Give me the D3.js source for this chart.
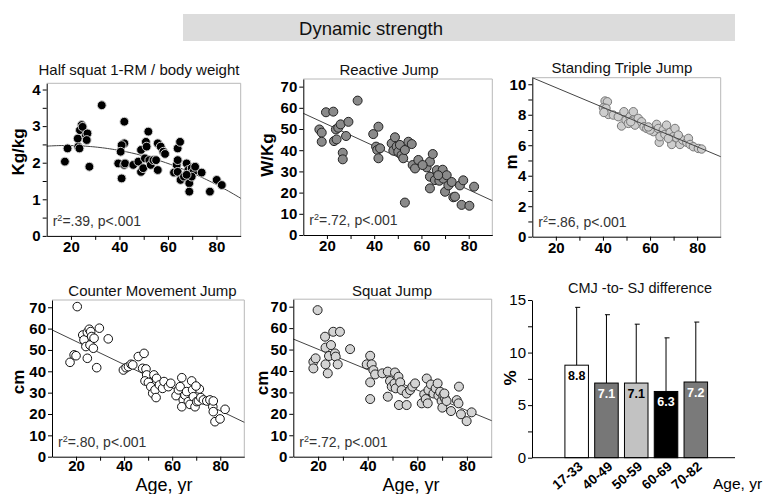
<!DOCTYPE html>
<html>
<head>
<meta charset="utf-8">
<script src="https://cdn.jsdelivr.net/npm/d3@7"></script>
<style>
  body { margin: 0; background: #fff; }
  svg { display: block; font-family: "Liberation Sans", Arial, sans-serif; }
</style>
</head>
<body>
<svg id="chart" width="764" height="494"></svg>
<script>
// ---------- Data ----------
// Half squat 1-RM relative to body weight (kg/kg) by age
const squatAge   = [17.5,18.6,23,23.5,22.8,24.4,23.7,24.8,26.2,26.8,26.5,27.6,32.7,42,42,40.9,40.5,39.5,40.9,42,42.3,45.7,47.8,48.9,48.9,49.8,50.9,51.2,50.5,51.9,52.3,52.9,54,55.1,55.8,55.8,57,58.1,58.8,62.5,63.6,64,64,65,64,65.2,66.6,67.7,68.4,68.8,68.8,69.8,70.5,71.2,73.9,77.3,80.1,82.2,69.8,67.7];
const squatRatio = [2.03,2.39,2.44,2.39,2.66,3.03,2.89,2.98,2.75,2.8,2.62,1.89,3.57,3.12,2.53,2.48,2.3,1.98,1.57,1.94,1.98,1.94,2.03,2.35,1.75,1.85,2.57,2.44,2.12,2.85,2.07,1.94,2.07,2.07,1.8,2.53,2.44,2.3,2.24,1.73,1.94,2.39,2.07,2.57,1.75,1.53,1.62,1.98,1.8,1.44,1.21,1.85,1.75,1.89,1.73,1.21,1.53,1.39,1.62,1.67];
const squatFitCoef = [2.38, 0.01, -0.000278];   // quadratic fit: c0 + c1*age + c2*age^2

// Reactive jump power (W/kg)
const reactiveAge   = [16.8,17.8,17.8,19.6,22.7,23,24.1,23.8,24.8,25.8,26.7,26.7,28.1,29.1,33,39.6,41.8,40.8,41.3,42.5,41.8,47.4,48.8,48.1,49.5,50.2,50.9,51.6,52.3,53,54.5,53,55.9,56.3,57.3,58.7,62.2,63.6,64.8,63.6,63.6,65.7,66.5,67.6,69,69.3,70,70.7,71.4,72.8,73.5,74.2,76.3,77.7,77,80.3,82.3,67.1,60.5];
const reactivePower = [49.8,48.3,44,57.9,58.2,44.3,45.1,49.8,50.6,52.2,38.8,35.7,46.7,53.4,63.4,47.6,51.1,41.7,40.1,40.9,36.2,43.2,46.1,39.8,41.7,39.3,42.5,37.7,36.2,40.1,44,15.3,42.9,33,31.4,35.4,31.9,34.6,38.2,27.5,22,25.9,30.6,25.6,30.8,26.6,20.4,28.2,23.4,25,17.8,18.1,23.4,25.8,14.2,13.8,22.8,28.2,33];
const reactiveFit = [[10, 57.4], [90, 16.2]];

// Standing triple jump distance (m)
const tripleAge  = [40.9,41.9,40.2,41.3,42.3,40.4,44.4,46.5,47.9,48.9,49.8,50.8,51.5,52.9,52.6,53.6,55,56.4,57.4,58.6,61.4,62.8,63.5,63.9,64.2,65.6,66.3,67,68.5,69.2,69.9,70.6,71.3,72.7,73.9,75.6,76.3,77,78.4,80.5,81.9,60,67.8,59.3,72,51.8];
const tripleDist = [8.9,8.85,8.46,8.42,8.02,8.15,7.98,7.87,7.26,8.2,7.65,7.43,7.87,8.2,7.65,7.32,7.76,7.54,7.21,7.1,6.89,7.37,7.1,6.19,6.56,7,6.71,7.32,6.84,6.05,6.56,7.1,6.49,6.05,6.34,6.19,6.45,6.05,5.9,5.79,5.75,7,6.45,7.2,6.67,7.54];
const tripleFit = [[10, 10.43], [90, 5.25]];

// Counter movement jump height (cm)
const cmjAge    = [20.5,17.5,19.2,20,22.8,23.3,24.1,24.7,24.7,25.5,26.1,26.5,25.8,27.5,27.2,28.6,29.7,33.4,39.7,40.8,41.8,42.9,43.6,45.9,48.3,47.7,49.1,49.4,48.7,50.1,51.1,51.9,52.9,53.3,52.4,53.5,54.7,56,56.6,58.4,59.4,61.6,62.6,63.3,64,64.6,64,65.3,66,66.7,67.4,68.5,68.1,68.8,69.5,70.2,70.9,71.9,73,74.4,75.7,76.9,77.1,77.1,77.8,79.9,82,71.3,69.9];
const cmjHeight = [70.3,44.2,47.7,47.3,57,54.7,51.6,46.1,58.3,59.7,58.6,56.3,52.3,55.5,50.8,41.7,60.2,55.2,40.6,41.7,42.2,43.3,43,46.9,48.4,41.4,41.1,38.3,35.5,34.8,32.8,29.7,31.3,27.7,38.3,36.7,33.6,32,35.2,32.8,34.4,28.6,31.3,32.8,37,26.6,23.4,28.9,30.5,25.8,24.5,31.3,35.5,28.1,23.4,25.8,26.1,27.7,26.6,26.1,26.6,23.4,26.1,21.1,16.4,17.7,22.2,31.7,33.1];
const cmjFit = [[10, 59.4], [90, 16.1]];

// Squat jump height (cm)
const sjAge    = [19.8,18.1,18.1,19,22.8,23,23,23.9,24.4,25.2,26.1,26.8,27.1,27.9,28.8,32.9,39.6,41,41.6,41,41,42.3,43,45.9,48.1,48.1,49,49.7,51,50.8,51.3,52.4,53.1,52.6,53.7,55.7,55.7,57.1,58,59.1,61.8,62.8,63.4,63.8,64.2,64.5,65.5,66.5,67.4,68.2,68.5,69.2,69.8,70.1,70.5,71.2,71.8,73.6,75.9,76.6,76.8,77.6,79.9,81.9,70.9];
const sjHeight = [68.4,44.3,41.2,45.9,56,50.9,43.1,38.9,47,52.1,58.3,48.2,46.7,43.1,58.3,50.2,43.1,47.1,43.1,34.7,26.9,40.4,38.4,38.9,39.7,28,35.3,32.7,39.3,34.2,31.9,37.3,34.7,24.1,31.1,24.1,29.5,31.1,32.7,34.2,24.9,29.1,26.9,36.5,24.9,31.1,33.7,29.5,31.9,34.2,28.5,30.3,26,22.9,28.5,27.2,26,21.3,26.4,24.9,32.7,19.8,16.6,20.7,29.5];
const sjFit = [[10, 54.9], [90, 16.8]];

// CMJ-to-SJ difference (%) by age group
const diffGroups = ["17-33", "40-49", "50-59", "60-69", "70-82"];
const diffMean   = [8.8, 7.1, 7.1, 6.3, 7.2];
const diffSD     = [5.5, 6.5, 5.6, 5.1, 5.7];

const ageDomain = [10, 90];
const ageTicks = [20, 30, 40, 50, 60, 70, 80];

// ---------- Drawing ----------
const svg = d3.select("#chart");

// Section header band
svg.append("rect").attr("x", 183).attr("y", 14).attr("width", 552).attr("height", 27).attr("fill", "#dcdcdc");
svg.append("text").attr("x", 371).attr("y", 35).attr("text-anchor", "middle")
  .attr("font-size", 18.5).attr("fill", "#111").text("Dynamic strength");

function drawScatter(p) {
  const g = svg.append("g");
  const x = d3.scaleLinear().domain(ageDomain).range([p.x0, p.x1]);
  const y = d3.scaleLinear().domain([0, p.yMax]).range([p.yBase, p.yTop]);

  // light frame on top and right
  g.append("path")
    .attr("d", `M${p.x0},${p.yTop}H${p.x1}V${p.yBase}`)
    .attr("fill", "none").attr("stroke", "#b8b8b8").attr("stroke-width", 1);

  const line = d3.line().x(d => x(d[0])).y(d => y(d[1]));
  const fitPath = () => g.append("path").attr("d", line(p.fit))
    .attr("fill", "none").attr("stroke", "#444").attr("stroke-width", 1);

  if (!p.fitOnTop) fitPath();

  g.append("g").selectAll("circle")
    .data(p.ages.map((a, i) => [a, p.vals[i]]))
    .join("circle")
    .attr("cx", d => x(d[0])).attr("cy", d => y(d[1])).attr("r", p.r)
    .attr("fill", p.fill).attr("stroke", p.stroke).attr("stroke-width", p.sw || 1);

  if (p.fitOnTop) fitPath();

  // x axis
  const xa = g.append("g").attr("transform", `translate(0,${p.yBase})`)
    .call(d3.axisBottom(x).tickValues(ageTicks).tickSize(4).tickSizeOuter(0).tickPadding(p.xPad)
      .tickFormat(d => d % 20 === 0 ? d : ""));
  // y axis
  const ya = g.append("g").attr("transform", `translate(${p.x0},0)`)
    .call(d3.axisLeft(y).tickValues(p.yTicks).tickSize(4).tickSizeOuter(0).tickPadding(2)
      .tickFormat(d => p.yLabels.includes(d) ? d : ""));
  [xa, ya].forEach(a => {
    a.selectAll("text").attr("font-size", 15).attr("font-weight", "bold").attr("fill", "#000")
      .attr("font-family", "Liberation Sans, Arial, sans-serif");
    a.selectAll("line").attr("stroke", "#000");
    a.select(".domain").attr("stroke", "#000");
  });

  // title
  g.append("text").attr("x", p.tx).attr("y", p.ty).attr("text-anchor", "middle")
    .attr("font-size", 15).attr("fill", "#111").text(p.title);
  // y label
  g.append("text").attr("transform", `translate(${p.ylx},${p.yly}) rotate(-90)`)
    .attr("text-anchor", "middle").attr("font-size", 17).attr("font-weight", "bold")
    .text(p.ylabel);
  // r-squared note
  const r2 = g.append("text").attr("x", p.x0 + 6).attr("y", p.yBase - 10)
    .attr("font-size", 14).attr("fill", "#333");
  r2.append("tspan").text("r");
  r2.append("tspan").attr("font-size", 9).attr("dy", -5).text("2");
  r2.append("tspan").attr("dy", 5).text(`=${p.r2}, p<.001`);
  // x label
  if (p.xlabel) {
    g.append("text").attr("x", p.xlx).attr("y", p.xly).attr("text-anchor", "middle")
      .attr("font-size", p.xlSize).text("Age, yr");
  }
}

const squatCurve = d3.range(10, 90.01, 1).map(a =>
  [a, squatFitCoef[0] + squatFitCoef[1] * a + squatFitCoef[2] * a * a]);

drawScatter({
  ages: squatAge, vals: squatRatio, fit: squatCurve,
  x0: 46.7, x1: 240.7, yBase: 235.9, yTop: 83.3, yMax: 4.17, xPad: 1.5,
  yTicks: d3.range(0, 4.01, 0.5), yLabels: [0, 1, 2, 3, 4],
  title: "Half squat 1-RM / body weight", tx: 139, ty: 75,
  ylabel: "Kg/kg", ylx: 24, yly: 152,
  fill: "#000", stroke: "#cfcfcf", r: 4.4, r2: ".39"
});

drawScatter({
  ages: reactiveAge, vals: reactivePower, fit: reactiveFit,
  x0: 303.3, x1: 492.3, yBase: 235, yTop: 79, yMax: 73.6, xPad: 1.5,
  yTicks: d3.range(0, 71, 10), yLabels: d3.range(0, 71, 10),
  title: "Reactive Jump", tx: 389, ty: 75,
  ylabel: "W/Kg", ylx: 273, yly: 155,
  fill: "#8a8a8a", stroke: "#222", r: 4.5, r2: ".72"
});

drawScatter({
  ages: tripleAge, vals: tripleDist, fit: tripleFit, fitOnTop: true,
  x0: 532.3, x1: 720.7, yBase: 236.7, yTop: 77.7, yMax: 10.43, xPad: 1.5,
  yTicks: d3.range(0, 10.01, 1), yLabels: [0, 2, 4, 6, 8, 10],
  title: "Standing Triple Jump", tx: 622, ty: 73,
  ylabel: "m", ylx: 517, yly: 162,
  fill: "#cdcdcd", stroke: "#777", r: 4.2, r2: ".86"
});

drawScatter({
  ages: cmjAge, vals: cmjHeight, fit: cmjFit,
  x0: 52, x1: 244.3, yBase: 456.7, yTop: 300, yMax: 73.4, xPad: 0,
  yTicks: d3.range(0, 71, 10), yLabels: d3.range(0, 71, 10),
  title: "Counter Movement Jump", tx: 152.5, ty: 295.5,
  ylabel: "cm", ylx: 24, yly: 382,
  fill: "#fff", stroke: "#111", r: 4.3, r2: ".80",
  xlabel: true, xlx: 164, xly: 491, xlSize: 18
});

drawScatter({
  ages: sjAge, vals: sjHeight, fit: sjFit,
  x0: 293.3, x1: 491.7, yBase: 456.7, yTop: 299.2, yMax: 73.5, xPad: 0,
  yTicks: d3.range(0, 71, 10), yLabels: d3.range(0, 71, 10),
  title: "Squat Jump", tx: 392, ty: 295.5,
  ylabel: "cm", ylx: 268, yly: 383,
  fill: "#d4d4d4", stroke: "#222", r: 4.5, r2: ".72",
  xlabel: true, xlx: 411, xly: 490.8, xlSize: 18
});

// ---------- CMJ-to-SJ difference bars ----------
(function () {
  const g = svg.append("g");
  const x = d3.scaleBand().domain(["", ...diffGroups]).range([532, 710.7])
    .paddingInner(0.21).paddingOuter(0.105);
  const y = d3.scaleLinear().domain([0, 15]).range([457.7, 300]);
  const fills = ["#ffffff", "#777777", "#c2c2c2", "#000000", "#7a7a7a"];
  const labelFill = ["#000", "#fff", "#000", "#fff", "#fff"];

  // error whiskers (upper only)
  diffGroups.forEach((grp, i) => {
    const cx = x(grp) + x.bandwidth() / 2;
    const top = y(diffMean[i] + diffSD[i]);
    g.append("line").attr("x1", cx).attr("x2", cx).attr("y1", y(diffMean[i])).attr("y2", top)
      .attr("stroke", "#000").attr("stroke-width", 1);
    g.append("line").attr("x1", cx - 1.5).attr("x2", cx + 3.5).attr("y1", top).attr("y2", top)
      .attr("stroke", "#000").attr("stroke-width", 1);
  });

  g.selectAll("rect.bar").data(diffGroups).join("rect").attr("class", "bar")
    .attr("x", d => x(d)).attr("width", x.bandwidth())
    .attr("y", (d, i) => y(diffMean[i])).attr("height", (d, i) => y(0) - y(diffMean[i]))
    .attr("fill", (d, i) => fills[i]).attr("stroke", "#000").attr("stroke-width", 1);

  g.selectAll("text.val").data(diffGroups).join("text").attr("class", "val")
    .attr("x", d => x(d) + x.bandwidth() / 2).attr("y", (d, i) => y(diffMean[i]) + 14.5)
    .attr("text-anchor", "middle").attr("font-size", 12.5).attr("font-weight", "bold")
    .attr("fill", (d, i) => labelFill[i]).text((d, i) => diffMean[i].toFixed(1));

  // baseline
  g.append("line").attr("x1", 532).attr("x2", 735).attr("y1", y(0)).attr("y2", y(0))
    .attr("stroke", "#000");

  // y axis
  const ya = g.append("g").attr("transform", "translate(532,0)")
    .call(d3.axisLeft(y).tickValues(d3.range(0, 15.01, 2.5)).tickSize(4).tickSizeOuter(0).tickPadding(2)
      .tickFormat(d => d % 5 === 0 ? d : ""));
  ya.selectAll("text").attr("font-size", 15).attr("fill", "#000")
    .attr("font-family", "Liberation Sans, Arial, sans-serif");
  ya.selectAll("line").attr("stroke", "#000");
  ya.select(".domain").attr("stroke", "#000");

  // rotated group labels
  g.selectAll("text.grp").data(diffGroups).join("text").attr("class", "grp")
    .attr("transform", d => `translate(${x(d) + x.bandwidth() / 2 + 7},${468}) rotate(-40)`)
    .attr("text-anchor", "end").attr("font-size", 13.5).attr("font-weight", "bold").text(d => d);

  g.append("text").attr("x", 640).attr("y", 293).attr("text-anchor", "middle")
    .attr("font-size", 14.5).attr("fill", "#111").text("CMJ -to- SJ difference");
  g.append("text").attr("transform", "translate(516,378) rotate(-90)")
    .attr("text-anchor", "middle").attr("font-size", 17).attr("font-weight", "bold").text("%");
  g.append("text").attr("x", 713).attr("y", 489).attr("font-size", 15.5).text("Age, yr");
})();
</script>
</body>
</html>
